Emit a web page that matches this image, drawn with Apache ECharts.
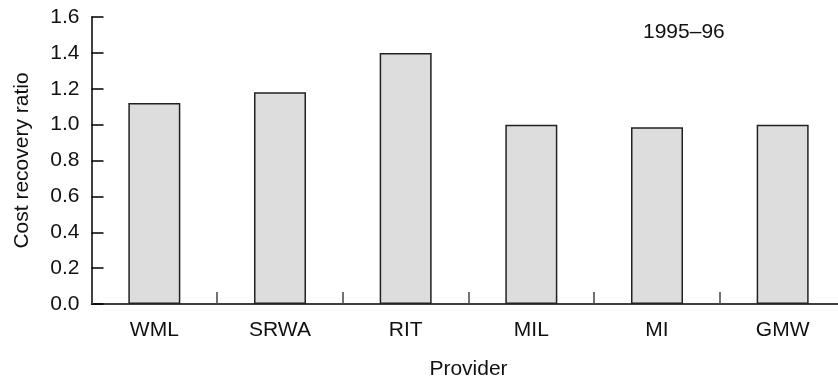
<!DOCTYPE html>
<html>
<head>
<meta charset="utf-8">
<script src="https://cdn.jsdelivr.net/npm/echarts@6/dist/echarts.min.js"></script>
<style>
  html, body { margin: 0; padding: 0; background: #fff; overflow: hidden; width: 838px; height: 378px; }
  #chart { position: absolute; left: 0; top: 0; width: 838px; height: 378px; }
</style>
</head>
<body>
<div id="chart"></div>
<script>
// Cost recovery ratio by provider, 1995–96
const providers = ['WML', 'SRWA', 'RIT', 'MIL', 'MI', 'GMW'];
const costRecovery = [1.12, 1.18, 1.40, 1.00, 0.985, 1.00];
const periodLabel = '1995–96';

const fontFamily = '"Liberation Sans", Arial, sans-serif';
const fontSize = 21;
const chart = echarts.init(document.getElementById('chart'));

chart.setOption({
  animation: false,
  backgroundColor: '#ffffff',
  title: {
    text: periodLabel,
    left: 638,
    top: 17,
    textStyle: { fontFamily, fontSize, fontWeight: 'normal', color: '#111' }
  },
  // fixed plot rectangle; it runs slightly past the right edge of the canvas
  grid: {
    left: 91.5, width: 754, top: 17, bottom: 74,
    containLabel: false,
    outerBoundsMode: 'none'
  },
  xAxis: {
    type: 'category',
    data: providers,
    name: 'Provider',
    nameLocation: 'middle',
    nameGap: 55,
    nameTextStyle: { fontFamily, fontSize, color: '#111' },
    axisLine: { lineStyle: { color: '#000', width: 1.5 } },
    axisTick: { show: true, inside: true, length: 12, lineStyle: { color: '#444', width: 1.5 } },
    axisLabel: { margin: 16, fontFamily, fontSize, color: '#111' }
  },
  yAxis: {
    type: 'value',
    min: 0,
    max: 1.6,
    interval: 0.2,
    name: 'Cost recovery ratio',
    nameLocation: 'middle',
    nameGap: 59,
    nameTextStyle: { fontFamily, fontSize, color: '#111' },
    splitLine: { show: false },
    axisLine: { show: true, lineStyle: { color: '#000', width: 1.5 } },
    axisTick: { show: true, inside: true, length: 12, lineStyle: { color: '#000', width: 1.5 } },
    axisLabel: {
      margin: 12,
      fontFamily,
      fontSize,
      color: '#111',
      formatter: v => v.toFixed(1)
    }
  },
  series: [{
    type: 'bar',
    data: costRecovery,
    barWidth: 52,
    itemStyle: { color: '#dddddd', borderColor: '#222', borderWidth: 1.5 }
  }]
});
</script>
</body>
</html>
